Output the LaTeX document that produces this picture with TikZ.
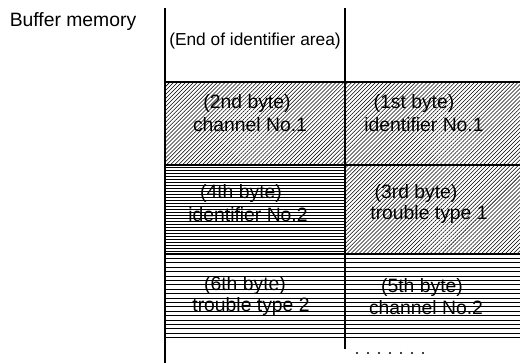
\documentclass[tikz,border=0pt]{standalone}
\usepackage{fontspec}
\setmainfont{Liberation Sans}
\usetikzlibrary{patterns.meta}
\tikzset{
  border/.style={line width=1.5pt},
  diaghatch/.style={pattern={Lines[angle=45,distance=2.1pt,line width=0.4pt]}},
  hline/.style={line width=0.7pt},
  celltext/.style={font=\fontsize{14.5}{16}\selectfont,inner sep=0pt}
}

\begin{document}
\begin{tikzpicture}[x=0.75pt,y=-0.75pt]
  \useasboundingbox (0,0) rectangle (520,363);
  % hatched cells
  \fill[diaghatch] (165,82) rectangle (520,165);
  \fill[diaghatch] (345,165) rectangle (520,254);
  \foreach \y in {167.5,170.5,...,253}
    \draw[hline] (165,\y) -- (345,\y);
  \foreach \y in {258.4,262.8,...,341}
    \draw[hline] (165,\y) -- (520,\y);
  % frame
  \draw[border] (165,8) -- (165,363);
  \draw[border] (345,8) -- (345,349);
  \draw[border] (165,82) -- (520,82);
  \draw[border] (165,165) -- (520,165);
  \draw[line width=2.2pt] (165,254) -- (520,254);
  % labels
  \node[font=\fontsize{14.5}{16}\selectfont] (title) at (73,22) {Buffer memory};
  \node[font=\fontsize{13}{15}\selectfont,inner sep=0pt] (endarea) at (255,41) {(End of identifier area)};
  \node[celltext] (byte2a) at (247,104) {(2nd byte)};
  \node[celltext] (byte2b) at (250,125) {channel No.1};
  \node[celltext] (byte1a) at (414,104) {(1st byte)};
  \node[celltext] (byte1b) at (424,125) {identifier No.1};
  \node[celltext] (byte4a) at (241,194) {(4th byte)};
  \node[celltext] (byte4b) at (248,215) {identifier No.2};
  \node[celltext] (byte3a) at (416,194) {(3rd byte)};
  \node[celltext] (byte3b) at (429,215) {trouble type 1};
  \node[celltext] (byte6a) at (245,285) {(6th byte)};
  \node[celltext] (byte6b) at (251,306) {trouble type 2};
  \node[celltext] (byte5a) at (422,287) {(5th byte)};
  \node[celltext] (byte5b) at (426,308) {channel No.2};
  \foreach \x in {0,...,6}
    \fill (357+11*\x,353) circle (1.1);
\end{tikzpicture}
\end{document}
